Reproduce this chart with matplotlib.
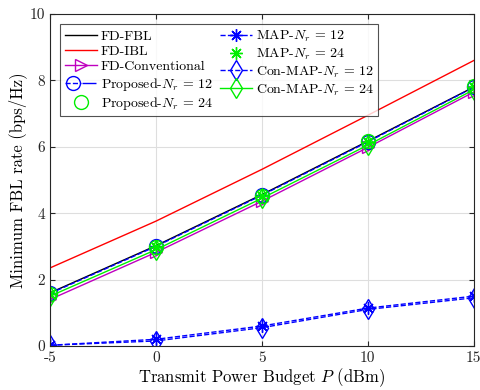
import numpy as np
import matplotlib.pyplot as plt
from matplotlib.legend_handler import HandlerTuple

plt.rcParams['font.family'] = 'serif'
plt.rcParams['font.serif'] = ['cmr10']
plt.rcParams['mathtext.fontset'] = 'cm'
plt.rcParams['axes.formatter.use_mathtext'] = True

# 送信電力 (dBm)
P = [-5, 0, 5, 10, 15]

fd_fbl = [1.60, 3.02, 4.56, 6.17, 7.80]
fd_ibl = [2.35, 3.76, 5.32, 6.95, 8.60]
fd_conv = [1.40, 2.82, 4.36, 5.98, 7.65]
prop_12 = [1.58, 3.00, 4.54, 6.15, 7.79]
prop_24 = [1.56, 2.98, 4.53, 6.16, 7.82]
map_12 = [0.02, 0.20, 0.60, 1.14, 1.50]
map_24 = [1.55, 2.97, 4.51, 6.13, 7.80]
conmap_12 = [0.02, 0.15, 0.55, 1.10, 1.45]
conmap_24 = [1.50, 2.90, 4.45, 6.05, 7.72]

G = '#00ee00'
AST = (8, 2, 0)  # アスタリスク

fig = plt.figure(figsize=(4.81, 3.9), dpi=100)
ax = fig.add_axes([0.104, 0.113, 0.881, 0.851])

h1, = ax.plot(P, fd_fbl, 'k-', lw=1.0)
h2, = ax.plot(P, fd_ibl, 'r-', lw=1.0)
h3, = ax.plot(P, fd_conv, '-', color='m', lw=1.0, marker='>', ms=8, mfc='none')
h4a, = ax.plot(P, prop_12, '--', color='b', lw=1.0, marker='o', ms=10, mfc='none')
h4b, = ax.plot(P, prop_12, ls='none', color='b', marker='_', ms=10, mew=1.0)
h5, = ax.plot(P, prop_24, ls='none', color=G, marker='o', ms=10, mfc='none', mew=1.0)
h6, = ax.plot(P, map_12, '--', color='b', lw=1.0, marker=AST, ms=9, mew=1.0)
h7, = ax.plot(P, map_24, ls='none', color=G, marker=AST, ms=9, mew=1.0)
h8, = ax.plot(P, conmap_12, '--', color='b', lw=1.0, marker='d', ms=10, mfc='none')
h9, = ax.plot(P, conmap_24, '-', color=G, lw=1.0, marker='d', ms=10, mfc='none')

ax.set_xlim(-5, 15)
ax.set_ylim(0, 10)
ax.set_xticks(P)
ax.set_xticklabels(['-5', '0', '5', '10', '15'])
ax.set_yticks([0, 2, 4, 6, 8, 10])
ax.set_yticklabels(['0', '2', '4', '6', '8', '10'])
ax.tick_params(direction='in', top=True, right=True, labelsize=11, colors='#262626')
ax.grid(True, color='#dedede', lw=0.8)
for s in ax.spines.values():
    s.set_color('#262626')
    s.set_linewidth(0.8)

ax.set_xlabel('Transmit Power Budget $P$ (dBm)', fontsize=12, labelpad=1)
ax.set_ylabel('Minimum FBL rate (bps/Hz)', fontsize=12, labelpad=2)

handles = [h1, h2, h3, (h4a, h4b), h5, h6, h7, h8, h9]
labels = ['FD-FBL', 'FD-IBL', 'FD-Conventional',
          'Proposed-$N_r\\,=\\,12$', 'Proposed-$N_r\\,=\\,24$',
          'MAP-$N_r\\,=\\,12$', 'MAP-$N_r\\,=\\,24$',
          'Con-MAP-$N_r\\,=\\,12$', 'Con-MAP-$N_r\\,=\\,24$']
leg = ax.legend(handles, labels, loc='upper left', ncol=2, fontsize=10, frameon=True,
                fancybox=False, edgecolor='#262626', borderaxespad=0.75, handlelength=2.3,
                columnspacing=0.5, labelspacing=0.18, borderpad=0.3, handletextpad=0.3,
                handler_map={tuple: HandlerTuple(ndivide=None, pad=0)})
leg.get_frame().set_linewidth(0.8)

fig.savefig('out.png', dpi=100)
